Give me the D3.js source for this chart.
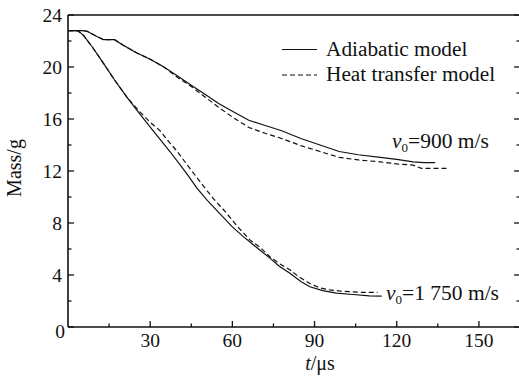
<!DOCTYPE html>
<html>
<head>
<meta charset="utf-8">
<script src="https://cdn.jsdelivr.net/npm/d3@7"></script>
<style>
  body { margin: 0; background: #fff; }
</style>
</head>
<body>
<div id="chart"></div>
<script>
// Data (t in microseconds, mass in grams)
const t900Adia = [0, 5, 7, 10, 13, 17, 20, 25, 30, 35, 40, 45, 50, 55, 60, 66, 72, 78, 85, 92, 99, 106, 114, 120, 126, 130, 134];
const m900Adia = [22.8, 22.8, 22.75, 22.4, 22.1, 22.1, 21.7, 21.1, 20.6, 20.0, 19.3, 18.6, 17.9, 17.2, 16.6, 15.9, 15.5, 15.1, 14.5, 14.0, 13.5, 13.25, 13.05, 12.9, 12.7, 12.65, 12.65];

const t900Heat = [0, 5, 7, 10, 13, 17, 20, 25, 30, 35, 40, 45, 50, 55, 60, 66, 72, 78, 85, 92, 99, 106, 114, 120, 126, 129, 134, 139];
const m900Heat = [22.8, 22.8, 22.75, 22.4, 22.1, 22.1, 21.7, 21.1, 20.6, 20.0, 19.2, 18.5, 17.7, 16.9, 16.15, 15.35, 14.9, 14.5, 13.95, 13.5, 13.05, 12.85, 12.7, 12.55, 12.45, 12.2, 12.2, 12.2];

const t1750Adia = [0, 3.5, 5.6, 9, 12.9, 17, 21.4, 26.9, 32, 37.2, 41, 44, 47, 50.6, 55.5, 60, 64, 69, 73.7, 77, 81, 85, 88.3, 93, 98, 104, 110, 114.5];
const m1750Adia = [22.8, 22.8, 22.45, 21.5, 20.3, 19.0, 17.7, 16.2, 14.85, 13.5, 12.45, 11.6, 10.7, 9.8, 8.7, 7.7, 6.95, 6.1, 5.3, 4.7, 4.13, 3.5, 3.1, 2.8, 2.6, 2.5, 2.4, 2.38];

const t1750Heat = [0, 3.5, 5.6, 9, 12.9, 17, 22, 26, 30, 33.6, 37, 39.7, 44.5, 49.4, 53, 57.9, 62, 66.4, 70, 73.7, 77, 81, 84, 88.3, 92, 95.6, 100, 106.6, 113];
const m1750Heat = [22.8, 22.8, 22.45, 21.5, 20.3, 19.0, 17.55, 16.6, 15.75, 15.1, 14.2, 13.55, 12.2, 10.85, 9.9, 8.75, 7.7, 6.7, 6.15, 5.4, 4.9, 4.4, 3.9, 3.35, 3.0, 2.85, 2.75, 2.67, 2.67];

const xMajor = [30, 60, 90, 120, 150];
const xMinor = [15, 45, 75, 105, 135, 165];
const yMajor = [0, 4, 8, 12, 16, 20, 24];
const yMinor = [2, 6, 10, 14, 18, 22];

const W = 519, H = 376;
const x0 = 68, x1 = 520, yTop = 15, yBot = 327;
const FONT = "Liberation Serif";
const ink = "#111";

const svg = d3.select("#chart").append("svg")
    .attr("width", W)
    .attr("height", H);

const x = d3.scaleLinear().domain([0, 165]).range([x0, x1]);
const y = d3.scaleLinear().domain([0, 24]).range([yBot, yTop]);

const line = d3.line()
    .x(d => x(d[0]))
    .y(d => y(d[1]));

function pairs(ts, ms) { return ts.map((t, i) => [t, ms[i]]); }

const series = [
    { pts: pairs(t900Adia, m900Adia), dash: null },
    { pts: pairs(t900Heat, m900Heat), dash: "5,3" },
    { pts: pairs(t1750Adia, m1750Adia), dash: null },
    { pts: pairs(t1750Heat, m1750Heat), dash: "5,3" }
];

series.forEach(s => {
    svg.append("path")
        .datum(s.pts)
        .attr("fill", "none")
        .attr("stroke", ink)
        .attr("stroke-width", 1.2)
        .attr("stroke-dasharray", s.dash)
        .attr("d", line);
});

// frame
const frame = svg.append("g").attr("stroke", ink).attr("stroke-width", 1.6).attr("fill", "none");
frame.append("line").attr("x1", x0).attr("x2", x1).attr("y1", yBot).attr("y2", yBot);
frame.append("line").attr("x1", x0).attr("x2", x1).attr("y1", yTop).attr("y2", yTop);
frame.append("line").attr("x1", x0).attr("x2", x0).attr("y1", yTop).attr("y2", yBot);
frame.append("line").attr("x1", x1).attr("x2", x1).attr("y1", yTop).attr("y2", yBot);

// x ticks (inward)
const ticks = svg.append("g").attr("stroke", ink).attr("stroke-width", 1.3);
xMajor.forEach(v => ticks.append("line").attr("x1", x(v)).attr("x2", x(v)).attr("y1", yBot).attr("y2", yBot - 6));
xMinor.forEach(v => ticks.append("line").attr("x1", x(v)).attr("x2", x(v)).attr("y1", yBot).attr("y2", yBot - 3.5));
// y ticks on left and right (inward)
yMajor.forEach(v => {
    ticks.append("line").attr("x1", x0).attr("x2", x0 + 6).attr("y1", y(v)).attr("y2", y(v));
    ticks.append("line").attr("x1", x1).attr("x2", x1 - 6).attr("y1", y(v)).attr("y2", y(v));
});
yMinor.forEach(v => {
    ticks.append("line").attr("x1", x0).attr("x2", x0 + 3.5).attr("y1", y(v)).attr("y2", y(v));
    ticks.append("line").attr("x1", x1).attr("x2", x1 - 3.5).attr("y1", y(v)).attr("y2", y(v));
});

function txt(g, xp, yp, size) {
    return g.append("text")
        .attr("x", xp).attr("y", yp)
        .style("font-family", FONT)
        .attr("font-size", size)
        .attr("fill", ink);
}

// tick labels
xMajor.forEach(v => txt(svg, x(v), yBot + 20, 19.5).attr("text-anchor", "middle").text(v));
yMajor.forEach(v => txt(svg, v === 0 ? x0 - 3 : x0 - 6, v === 0 ? y(v) + 11 : y(v) + 6.5, 19.5)
    .attr("text-anchor", "end").text(v));

// axis titles
txt(svg, 0, 0, 20)
    .attr("transform", "translate(21,168) rotate(-90)")
    .attr("text-anchor", "middle")
    .text("Mass/g");

const xt = txt(svg, 320, 370, 20).attr("text-anchor", "middle");
xt.append("tspan").attr("font-style", "italic").text("t");
xt.append("tspan").text("/μs");

// legend
const legend = svg.append("g");
legend.append("line").attr("x1", 282).attr("x2", 317).attr("y1", 49.5).attr("y2", 49.5)
    .attr("stroke", ink).attr("stroke-width", 1.2);
legend.append("line").attr("x1", 282).attr("x2", 317).attr("y1", 75).attr("y2", 75)
    .attr("stroke", ink).attr("stroke-width", 1.2).attr("stroke-dasharray", "5,3");
txt(legend, 326, 55.5, 21.3).text("Adiabatic model");
txt(legend, 326, 81, 21.3).text("Heat transfer model");

// curve annotations
function vLabel(xp, yp, rest) {
    const t = txt(svg, xp, yp, 21.5);
    t.append("tspan").attr("font-style", "italic").text("v");
    t.append("tspan").attr("font-size", 13).attr("dy", 4).text("0");
    t.append("tspan").attr("dy", -4).text(rest);
}
vLabel(392, 148, "=900 m/s");
vLabel(386, 300, "=1 750 m/s");
</script>
</body>
</html>
